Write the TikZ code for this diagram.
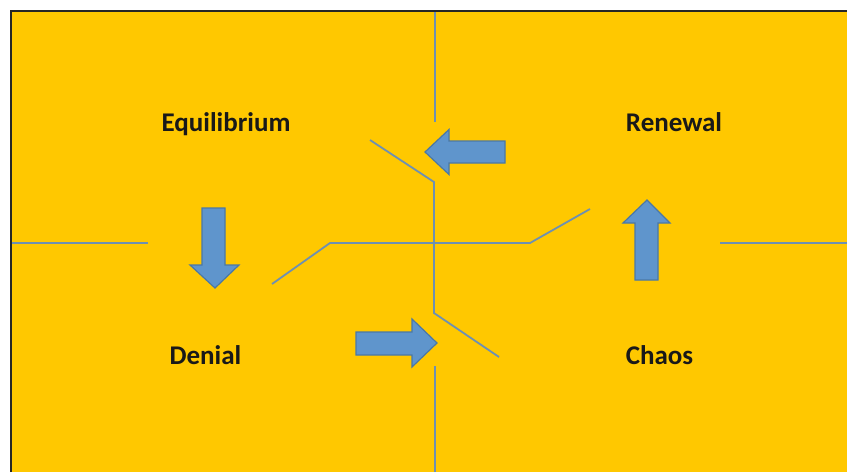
\documentclass[tikz,border=0pt]{standalone}
\usepackage{fontspec}
\setmainfont{Carlito}
\definecolor{bgyellow}{HTML}{FFC800}
\definecolor{arrowfill}{HTML}{5F95CC}
\definecolor{arrowline}{HTML}{4A78A6}
\definecolor{divline}{HTML}{6E90B2}
\begin{document}
\begin{tikzpicture}[x=1pt,y=-1pt,
  label/.style={font=\bfseries\fontsize{27}{32}\selectfont, text=black!90, inner sep=0pt, anchor=base},
  blockarrow/.style={fill=arrowfill, draw=arrowline, line width=1.2pt, line join=miter},
  divider/.style={draw=divline, line width=1.8pt}]
\useasboundingbox (0,0) rectangle (847,472);
\fill[white] (0,0) rectangle (847,472);
% background panel with border
\fill[bgyellow] (11,11) rectangle (847,472);
\draw[black!85, line width=2.2pt] (11,472) -- (11,11) -- (847,11);
% divider lines
\coordinate (t1) at (435,12);  \coordinate (t2) at (435,122);
\coordinate (d1) at (370,140); \coordinate (d2) at (434,182);
\coordinate (d3) at (434,313); \coordinate (d4) at (499,357);
\coordinate (b1) at (435,366); \coordinate (b2) at (435,472);
\coordinate (l1) at (12,243);  \coordinate (l2) at (148,243);
\coordinate (z1) at (272,284); \coordinate (z2) at (330,243);
\coordinate (z3) at (530,243); \coordinate (z4) at (590,209);
\coordinate (r1) at (720,243); \coordinate (r2) at (847,243);
\draw[divider] (t1) -- (t2);
\draw[divider] (d1) -- (d2) -- (d3) -- (d4);
\draw[divider] (b1) -- (b2);
\draw[divider] (l1) -- (l2);
\draw[divider] (z1) -- (z2) -- (z3) -- (z4);
\draw[divider] (r1) -- (r2);
% block arrows
\draw[blockarrow] (425,152) -- (449,129.5) -- (449,141) -- (505,141) -- (505,163) -- (449,163) -- (449,174.5) -- cycle;
\draw[blockarrow] (437,343) -- (412,319) -- (412,332) -- (356,332) -- (356,355) -- (412,355) -- (412,367) -- cycle;
\draw[blockarrow] (215,288) -- (190,265) -- (202,265) -- (202,208) -- (225,208) -- (225,265) -- (239,265) -- cycle;
\draw[blockarrow] (647,200) -- (623,223) -- (635,223) -- (635,280) -- (658,280) -- (658,223) -- (670,223) -- cycle;
% labels
\node[label] (eq) at (226,131.5) {Equilibrium};
\node[label] (re) at (674,131.5) {Renewal};
\node[label] (de) at (205.5,364.5) {Denial};
\node[label] (ch) at (659.5,364.5) {Chaos};
\end{tikzpicture}
\end{document}
